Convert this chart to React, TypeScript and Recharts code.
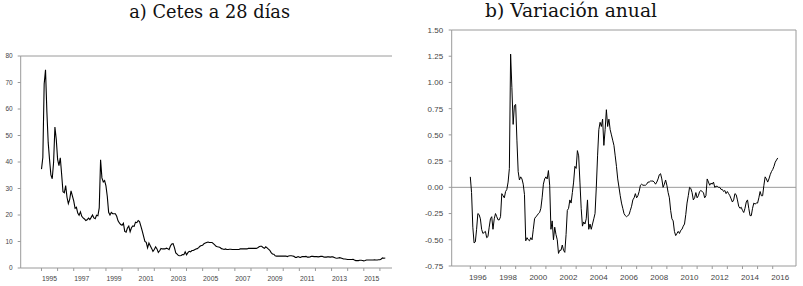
import { LineChart, Line, XAxis, YAxis, ReferenceLine } from "recharts";

// Cetes a 28 dias, monthly level (%), Jan 1995 - May 2016
const LEVEL_START = 1995;
const cetesLevel = [
  37.3, 41.7, 69.5, 74.8, 59.1, 47.3, 40.9, 35.1, 33.7, 39.8, 53.2, 48.6,
  41.0, 38.6, 41.6, 35.4, 28.8, 28.4, 31.1, 26.7, 24.3, 25.9, 29.1, 27.2,
  25.3, 22.5, 22.9, 20.7, 19.9, 21.2, 19.5, 18.9, 18.5, 17.9, 18.2, 18.8,
  18.3, 19.1, 20.0, 18.9, 18.6, 19.9, 19.7, 22.7, 40.8, 34.0, 32.5, 33.0,
  31.0, 27.0, 21.0, 20.0, 21.0, 20.5, 20.5, 20.5, 19.5, 17.8, 17.0, 16.4,
  16.1, 16.9, 13.8, 13.5, 15.1, 15.8, 13.7, 15.2, 15.9, 15.7, 17.3, 17.1,
  17.9, 17.5, 15.8, 14.0, 12.0, 10.0, 9.7, 7.6, 9.4, 8.4, 7.4, 6.3,
  7.0, 8.0, 7.2, 5.9, 6.5, 7.4, 7.2, 7.2, 7.2, 7.5, 7.3, 6.9,
  8.3, 9.1, 9.2, 7.7, 5.7, 5.2, 4.7, 4.6, 4.7, 5.1, 5.0, 6.1,
  5.0, 5.8, 6.3, 6.1, 6.6, 6.6, 6.9, 7.2, 7.3, 7.7, 8.2, 8.5,
  8.6, 9.2, 9.4, 9.6, 9.8, 9.6, 9.6, 9.6, 9.2, 8.7, 8.2, 8.0,
  7.9, 7.7, 7.3, 7.2, 7.0, 7.2, 7.0, 7.0, 7.1, 7.1, 7.0, 7.0,
  7.0, 7.0, 7.0, 7.0, 7.2, 7.2, 7.2, 7.2, 7.2, 7.2, 7.4, 7.4,
  7.4, 7.4, 7.4, 7.4, 7.4, 7.6, 8.0, 8.2, 8.2, 7.7, 7.4, 8.0,
  7.6, 7.1, 6.7, 5.8, 5.3, 5.2, 4.6, 4.5, 4.5, 4.5, 4.5, 4.5,
  4.5, 4.5, 4.5, 4.3, 4.5, 4.6, 4.6, 4.5, 4.4, 4.0, 4.0, 4.3,
  4.1, 4.0, 4.3, 4.3, 4.3, 4.4, 4.1, 4.1, 4.2, 4.4, 4.4, 4.3,
  4.3, 4.3, 4.2, 4.3, 4.4, 4.4, 4.2, 4.1, 4.1, 4.2, 4.2, 4.1,
  4.2, 4.2, 4.0, 3.8, 3.7, 3.8, 3.9, 3.8, 3.6, 3.4, 3.4, 3.3,
  3.2, 3.2, 3.2, 3.2, 3.3, 3.0, 2.8, 2.8, 2.8, 2.9, 2.9, 2.8,
  2.7, 2.8, 3.0, 3.0, 3.0, 3.0, 3.0, 3.0, 3.1, 3.0, 3.0, 3.1,
  3.1, 3.4, 3.8, 3.7, 3.8,
];

// annual variation, Jan 1996 - May 2016
const VAR_START = 1996;
const cetesVariation = [
  0.10, -0.05, -0.38, -0.53, -0.52, -0.40, -0.25, -0.26, -0.30, -0.40, -0.44, -0.43,
  -0.42, -0.48, -0.47, -0.38, -0.30, -0.28, -0.40, -0.30, -0.25, -0.28, -0.31, -0.31,
  -0.28, -0.06, -0.08, -0.10, -0.04, -0.02, 0.05, 0.18, 1.27, 0.95, 0.60, 0.78,
  0.79, 0.45, 0.15, 0.07, 0.10, 0.08, 0.03, -0.07, -0.51, -0.48, -0.50, -0.51,
  -0.48, -0.50, -0.40, -0.30, -0.28, -0.27, -0.25, -0.24, -0.20, -0.10, 0.03, 0.08,
  0.10, 0.08, 0.16, 0.02, -0.40, -0.32, -0.50, -0.38, -0.45, -0.50, -0.63, -0.60,
  -0.60, -0.55, -0.60, -0.62, -0.45, -0.22, -0.20, -0.12, -0.15, -0.05, 0.05, 0.20,
  0.18, 0.35, 0.30, 0.05, -0.20, -0.37, -0.33, -0.35, -0.30, -0.12, -0.40, -0.35,
  -0.40, -0.35, -0.30, -0.25, 0.00, 0.30, 0.55, 0.62, 0.58, 0.65, 0.40, 0.55,
  0.74, 0.58, 0.65, 0.55, 0.50, 0.45, 0.40, 0.30, 0.20, 0.08, 0.00, -0.08,
  -0.15, -0.20, -0.25, -0.27, -0.28, -0.27, -0.26, -0.22, -0.18, -0.12, -0.10, -0.06,
  -0.10, -0.08, -0.04, 0.02, 0.03, 0.02, 0.02, 0.02, 0.03, 0.05, 0.05, 0.06,
  0.06, 0.06, 0.05, 0.03, 0.05, 0.08, 0.12, 0.13, 0.08, 0.00, 0.03, 0.07,
  0.02, -0.05, -0.10, -0.22, -0.30, -0.32, -0.42, -0.46, -0.44, -0.42, -0.44, -0.41,
  -0.40, -0.37, -0.35, -0.26, -0.15, -0.08, 0.00, -0.01, -0.05, -0.12, -0.10, -0.05,
  -0.10, -0.08, -0.04, -0.03, -0.04, -0.05, -0.10, -0.08, 0.08, 0.05, 0.02, 0.04,
  0.03, 0.05, 0.00, 0.01, 0.01, 0.00, 0.00, -0.02, -0.02, -0.04, -0.03, -0.06,
  -0.04, -0.06, -0.08, -0.11, -0.14, -0.12, -0.06, -0.07, -0.12, -0.18, -0.20, -0.19,
  -0.22, -0.24, -0.20, -0.14, -0.12, -0.20, -0.27, -0.27, -0.20, -0.15, -0.16, -0.15,
  -0.15, -0.10, -0.04, -0.08, -0.08, 0.02, 0.10, 0.08, 0.05, 0.08, 0.12, 0.15,
  0.17, 0.20, 0.24, 0.26, 0.28,
];

const levelYearTicks = [1995, 1996, 1997, 1998, 1999, 2000, 2001, 2002, 2003, 2004, 2005, 2006, 2007, 2008, 2009, 2010, 2011, 2012, 2013, 2014, 2015, 2016];
const varYearTicks = [1996, 1997, 1998, 1999, 2000, 2001, 2002, 2003, 2004, 2005, 2006, 2007, 2008, 2009, 2010, 2011, 2012, 2013, 2014, 2015, 2016];
const levelTicks = [0, 10, 20, 30, 40, 50, 60, 70, 80];
const varTicks = [-0.75, -0.5, -0.25, 0, 0.25, 0.5, 0.75, 1.0, 1.25, 1.5];

const levelData = cetesLevel.map((v, i) => ({ t: LEVEL_START + i / 12, v }));
const varData = cetesVariation.map((v, i) => ({ t: VAR_START + i / 12, v }));

const GREY = "#9a9a9a";
const SANS = "'Liberation Sans', Arial, sans-serif";
const SERIF = "'DejaVu Serif', 'Liberation Serif', serif";

// year labels sit in the middle of the year, tick marks at the start
const YearTick = (props: any) => {
  const { x, y, payload, odd, shift, fontSize } = props;
  const yr = payload.value;
  if ((yr % 2 === 1) !== odd) return null;
  return (
    <text x={x + shift} y={y} dy="0.71em" textAnchor="middle" fill="#444" style={{ fontSize, fontFamily: SANS }}>
      {yr}
    </text>
  );
};

export default function App() {
  return (
    <div style={{ position: "fixed", left: 0, top: 0, width: 803, height: 286, background: "#fff" }}>
      <div style={{ position: "absolute", left: 0, top: 0 }}>
        <LineChart width={400} height={286} data={levelData} margin={{ top: 56, right: 8, bottom: 0, left: 0 }}>
          <XAxis
            dataKey="t"
            type="number"
            domain={[1993.71, 2016.75]}
            ticks={levelYearTicks}
            interval={0}
            allowDataOverflow
            height={18}
            tickSize={3}
            tickMargin={5}
            axisLine={{ stroke: GREY }}
            tickLine={{ stroke: GREY }}
            tick={<YearTick odd={true} shift={8} fontSize={6.8} />}
          />
          <YAxis
            type="number"
            domain={[0, 80]}
            ticks={levelTicks}
            interval={0}
            width={20.7}
            tickSize={3}
            tickMargin={5}
            axisLine={{ stroke: GREY }}
            tickLine={{ stroke: GREY }}
            tick={{ fontSize: 6.5, fill: "#444", fontFamily: SANS }}
          />
          <ReferenceLine y={80} stroke={GREY} />
          <Line dataKey="v" type="linear" stroke="#000" strokeWidth={1.1} dot={false} isAnimationActive={false} />
        </LineChart>
      </div>
      <div style={{ position: "absolute", left: 400, top: 0 }}>
        <LineChart width={403} height={286} data={varData} margin={{ top: 30, right: 7, bottom: 0, left: 0 }}>
          <XAxis
            dataKey="t"
            type="number"
            domain={[1994.77, 2017.54]}
            ticks={varYearTicks}
            interval={0}
            allowDataOverflow
            height={20}
            tickSize={3}
            tickMargin={5}
            axisLine={{ stroke: GREY }}
            tickLine={{ stroke: GREY }}
            tick={<YearTick odd={false} shift={7.5} fontSize={8} />}
          />
          <YAxis
            type="number"
            domain={[-0.75, 1.5]}
            ticks={varTicks}
            interval={0}
            width={51.7}
            tickSize={3}
            tickMargin={5.5}
            axisLine={{ stroke: GREY }}
            tickLine={{ stroke: GREY }}
            tickFormatter={(v: number) => v.toFixed(2)}
            tick={{ fontSize: 8, fill: "#444", fontFamily: SANS }}
          />
          <ReferenceLine y={1.5} stroke={GREY} />
          <ReferenceLine x={2017.54} stroke={GREY} />
          <ReferenceLine y={0} stroke={GREY} />
          <Line dataKey="v" type="linear" stroke="#000" strokeWidth={1} dot={false} isAnimationActive={false} />
        </LineChart>
      </div>
      <svg width={803} height={286} style={{ position: "absolute", left: 0, top: 0, pointerEvents: "none" }}>
        <text x={129.3} y={18.3} textLength={160.7} lengthAdjust="spacingAndGlyphs" fill="#111" style={{ fontSize: 18, fontFamily: SERIF }}>
          a) Cetes a 28 días
        </text>
        <text x={485} y={16.7} textLength={172} lengthAdjust="spacingAndGlyphs" fill="#111" style={{ fontSize: 18, fontFamily: SERIF }}>
          b) Variación anual
        </text>
      </svg>
    </div>
  );
}
